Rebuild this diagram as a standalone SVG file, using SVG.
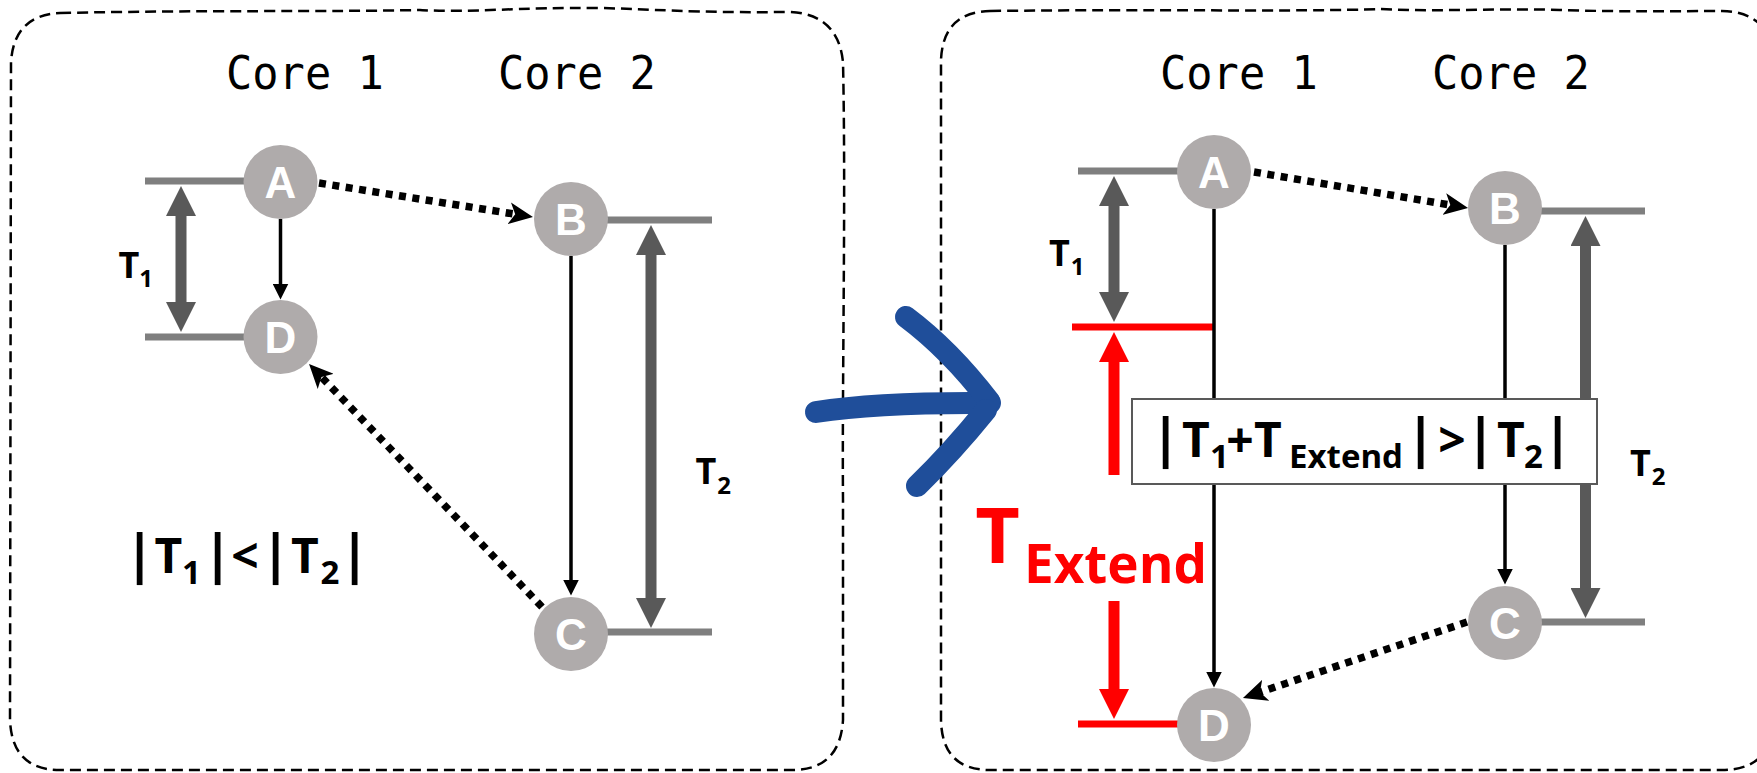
<svg xmlns="http://www.w3.org/2000/svg" width="1757" height="773" viewBox="0 0 1757 773">
<style>
.panel{fill:none;stroke:#000;stroke-width:2.5;stroke-dasharray:11 6}
.core{font-family:"DejaVu Sans Mono",monospace;font-size:46px;fill:#000}
.node circle{fill:#afabab}
.node text{font-family:"Liberation Sans",Arial,sans-serif;font-weight:bold;font-size:44px;fill:#fff;text-anchor:middle}
.bar{stroke:#7f7f7f;stroke-width:7}
.redbar{stroke:#ff0000;stroke-width:7}
.thin{stroke:#000;stroke-width:3.5;fill:none}
.dot{stroke:#000;stroke-width:7.5;stroke-dasharray:7 6.5;fill:none}
.dim{stroke:#595959;stroke-width:11;fill:none}
.rdim{stroke:#ff0000;stroke-width:11;fill:none}
.lbl{font-family:"Open Sans","DejaVu Sans",sans-serif;font-weight:bold;fill:#000;text-anchor:middle}
</style>
<defs>
<marker id="mThin" markerUnits="userSpaceOnUse" viewBox="0 0 16 16" markerWidth="16" markerHeight="16" refX="0.5" refY="8" orient="auto"><path d="M0,0 L16,8 L0,16 Z" fill="#000"/></marker>
<marker id="mDot" markerUnits="userSpaceOnUse" viewBox="0 0 24 22" markerWidth="24" markerHeight="22" refX="6" refY="11" orient="auto"><path d="M0,0 L24,11 L0,22 L6,11 Z" fill="#000"/></marker>
<marker id="mDim" markerUnits="userSpaceOnUse" viewBox="0 0 30 30" markerWidth="30" markerHeight="30" refX="1" refY="15" orient="auto-start-reverse"><path d="M0,0 L30,15 L0,30 Z" fill="#595959"/></marker>
<marker id="mRed" markerUnits="userSpaceOnUse" viewBox="0 0 30 30" markerWidth="30" markerHeight="30" refX="1" refY="15" orient="auto"><path d="M0,0 L30,15 L0,30 Z" fill="#ff0000"/></marker>
</defs>

<g id="panel-left">
<path class="panel" d="M60,13 C200,10 330,12 420,10 C470,13 520,7 600,8 C650,9 690,13 790,12 Q838,14 843,62 C846,200 842,380 843,500 L843,720 Q840,770 792,770 L60,770 Q12,770 10,720 L11,62 Q14,15 60,13 Z"/>
</g>
<g id="panel-right">
<path class="panel" d="M990,11 C1150,9 1300,12 1380,9 C1440,12 1500,8 1560,10 C1620,12 1680,11 1722,11 Q1772,12 1772,61 L1772,720 Q1772,770 1722,770 L990,770 Q942,770 941,720 L941,60 Q943,12 990,11 Z"/>
</g>

<g id="transition-arrow" fill="none" stroke="#1f4e9a" stroke-width="22" stroke-linecap="round" stroke-linejoin="round">
<path d="M816,412 Q880,402 990,403"/>
<path d="M906,317 Q950,350 989,401"/>
<path d="M986,410 Q952,452 917,486"/>
</g>

<g id="core-labels">
<text class="core" transform="translate(226,89) scale(0.95,1)">Core 1</text>
<text class="core" transform="translate(498,89) scale(0.95,1)">Core 2</text>
<text class="core" transform="translate(1160,89) scale(0.95,1)">Core 1</text>
<text class="core" transform="translate(1432,89) scale(0.95,1)">Core 2</text>
</g>

<g id="timelines">
<line class="bar" x1="145" y1="181" x2="250" y2="181"/>
<line class="bar" x1="145" y1="337" x2="250" y2="337"/>
<line class="bar" x1="600" y1="220" x2="712" y2="220"/>
<line class="bar" x1="600" y1="632" x2="712" y2="632"/>
<line class="bar" x1="1078" y1="171" x2="1185" y2="171"/>
<line class="bar" x1="1535" y1="211" x2="1645" y2="211"/>
<line class="bar" x1="1535" y1="622" x2="1645" y2="622"/>
<line class="redbar" x1="1072" y1="327" x2="1213" y2="327"/>
<line class="redbar" x1="1078" y1="724" x2="1185" y2="724"/>
</g>

<g id="connectors">
<line class="thin" x1="280.5" y1="219" x2="280.5" y2="284" marker-end="url(#mThin)"/>
<line class="thin" x1="571" y1="256" x2="571" y2="580" marker-end="url(#mThin)"/>
<line class="thin" x1="1214" y1="209" x2="1214" y2="672" marker-end="url(#mThin)"/>
<line class="thin" x1="1505" y1="245" x2="1505" y2="569" marker-end="url(#mThin)"/>
<line class="dot" x1="319" y1="183" x2="515.2" y2="214.2" marker-end="url(#mDot)"/>
<line class="dot" x1="542" y1="607" x2="321.5" y2="377" marker-end="url(#mDot)"/>
<line class="dot" x1="1254" y1="172" x2="1450.3" y2="205" marker-end="url(#mDot)"/>
<line class="dot" x1="1467" y1="622" x2="1260" y2="692.2" marker-end="url(#mDot)"/>
<line class="dim" x1="181" y1="215" x2="181" y2="303" marker-start="url(#mDim)" marker-end="url(#mDim)"/>
<line class="dim" x1="651" y1="254" x2="651" y2="599" marker-start="url(#mDim)" marker-end="url(#mDim)"/>
<line class="dim" x1="1114" y1="205" x2="1114" y2="293" marker-start="url(#mDim)" marker-end="url(#mDim)"/>
<line class="dim" x1="1585.5" y1="245" x2="1585.5" y2="589" marker-start="url(#mDim)" marker-end="url(#mDim)"/>
<line class="rdim" x1="1114" y1="475" x2="1114" y2="361" marker-end="url(#mRed)"/>
<line class="rdim" x1="1114" y1="601" x2="1114" y2="690" marker-end="url(#mRed)"/>
</g>

<g id="node-A1" class="node"><circle cx="280.5" cy="182" r="37"/><text x="280.5" y="198">A</text></g>
<g id="node-D1" class="node"><circle cx="280.5" cy="337" r="37"/><text x="280.5" y="353">D</text></g>
<g id="node-B1" class="node"><circle cx="571" cy="219" r="37"/><text x="571" y="235">B</text></g>
<g id="node-C1" class="node"><circle cx="571" cy="634" r="37"/><text x="571" y="650">C</text></g>
<g id="node-A2" class="node"><circle cx="1214" cy="172" r="37"/><text x="1214" y="188">A</text></g>
<g id="node-B2" class="node"><circle cx="1505" cy="208" r="37"/><text x="1505" y="224">B</text></g>
<g id="node-C2" class="node"><circle cx="1505" cy="623" r="37"/><text x="1505" y="639">C</text></g>
<g id="node-D2" class="node"><circle cx="1214" cy="725" r="37"/><text x="1214" y="741">D</text></g>

<g id="labels">
<text class="lbl"><tspan x="129" y="278" font-size="36">T</tspan><tspan x="146" y="287" font-size="24">1</tspan></text>
<text class="lbl"><tspan x="706" y="484" font-size="36">T</tspan><tspan x="724" y="494" font-size="24">2</tspan></text>
<text class="lbl"><tspan x="1059.5" y="266" font-size="36">T</tspan><tspan x="1077.5" y="275" font-size="24">1</tspan></text>
<text class="lbl"><tspan x="1640.5" y="476" font-size="36">T</tspan><tspan x="1658.5" y="485" font-size="24">2</tspan></text>
</g>

<g id="condition-left">
<text class="lbl"><tspan x="139.5" y="573" font-size="54">|</tspan><tspan x="168.5" y="573" font-size="48">T</tspan><tspan x="191.5" y="584" font-size="33">1</tspan><tspan x="217.5" y="573" font-size="54">|</tspan><tspan x="245" y="573" font-size="48">&lt;</tspan><tspan x="275.5" y="573" font-size="54">|</tspan><tspan x="305" y="573" font-size="48">T</tspan><tspan x="330" y="584" font-size="33">2</tspan><tspan x="354.5" y="573" font-size="54">|</tspan></text>
</g>

<g id="extend-label">
<text class="lbl" style="fill:#ff0000"><tspan x="997.5" y="563" font-size="77">T</tspan><tspan x="1115.5" y="583" font-size="53">Extend</tspan></text>
</g>

<g id="condition-box">
<rect x="1132" y="399" width="465" height="85" fill="#fff" stroke="#595959" stroke-width="2"/>
<text class="lbl"><tspan x="1165.5" y="457" font-size="54">|</tspan><tspan x="1196" y="457" font-size="48">T</tspan><tspan x="1219.5" y="468" font-size="33">1</tspan><tspan x="1240" y="457" font-size="48">+</tspan><tspan x="1268" y="457" font-size="48">T</tspan><tspan x="1346" y="468" font-size="33">Extend</tspan><tspan x="1420.5" y="457" font-size="54">|</tspan><tspan x="1452" y="457" font-size="48">&gt;</tspan><tspan x="1480.5" y="457" font-size="54">|</tspan><tspan x="1511" y="457" font-size="48">T</tspan><tspan x="1533.5" y="468" font-size="33">2</tspan><tspan x="1557.5" y="457" font-size="54">|</tspan></text>
</g>
</svg>
